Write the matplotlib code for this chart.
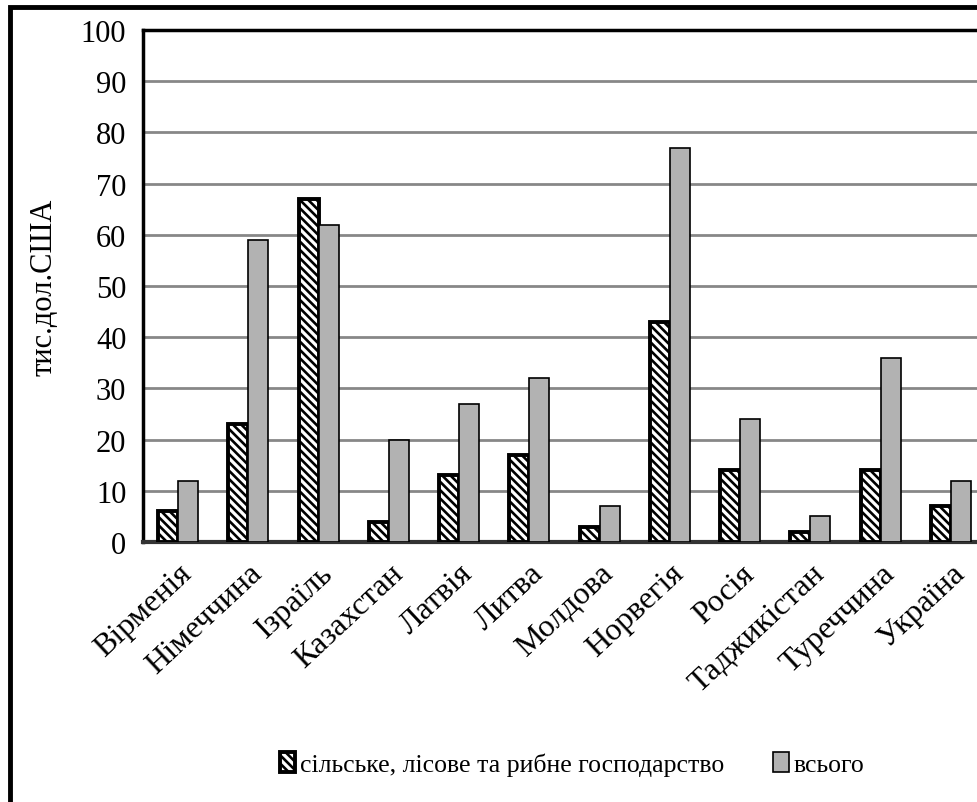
import matplotlib.pyplot as plt
from matplotlib.patches import Rectangle
import numpy as np

plt.rcParams['font.family'] = ['Liberation Serif', 'DejaVu Serif']
plt.rcParams['hatch.linewidth'] = 1.9

countries = ['Вірменія', 'Німеччина', 'Ізраїль', 'Казахстан', 'Латвія', 'Литва',
             'Молдова', 'Норвегія', 'Росія', 'Таджикістан', 'Туреччина', 'Україна']
agro = [6, 23, 67, 4, 13, 17, 3, 43, 14, 2, 14, 7]
total = [12, 59, 62, 20, 27, 32, 7, 77, 24, 5, 36, 12]

fig = plt.figure(figsize=(9.78, 8.03), dpi=100)
ax = fig.add_axes([143 / 978, 1 - 543 / 803, 843 / 978, 512 / 803])

x = np.arange(len(countries))
w = 0.285
ax.bar(x - w / 2, agro, w, color='white', edgecolor='black', hatch='\\' * 4,
       linewidth=2.8, label='сільське, лісове та рибне господарство', zorder=3)
ax.bar(x + w / 2, total, w, color='#b2b2b2', edgecolor='black',
       linewidth=1.2, label='всього', zorder=3)

ax.set_xlim(-0.5, 11.5)
ax.set_ylim(0, 100)
ax.set_yticks(range(0, 101, 10))
ax.yaxis.grid(True, color='#878787', linewidth=2)
ax.set_axisbelow(True)
ax.tick_params(axis='both', length=0, labelsize=22, pad=12)
ax.set_xticks(x)
ax.set_xticklabels(countries, rotation=43, ha='right', rotation_mode='anchor',
                   fontsize=23)
ax.tick_params(axis='x', pad=12)

for s in ['top', 'left']:
    ax.spines[s].set_linewidth(2.5)
    ax.spines[s].set_color('black')
ax.spines['right'].set_visible(False)
ax.spines['bottom'].set_linewidth(3)
ax.spines['bottom'].set_color('#333333')

ax.set_ylabel('тис.дол.США', fontsize=22, labelpad=16)

ax.legend(loc='center', bbox_to_anchor=(572 / 978, 1 - 765 / 803),
          bbox_transform=fig.transFigure, ncol=2, frameon=False, fontsize=18.5,
          handlelength=0.6, handleheight=0.8, handletextpad=0.2, columnspacing=1.9)

fig.patches.append(Rectangle((10 / 978, -0.05), 1.1, 1 - 8 / 803 + 0.05,
                             transform=fig.transFigure, fill=False,
                             edgecolor='black', linewidth=3.5, zorder=0))

fig.savefig('out.png', dpi=100)
